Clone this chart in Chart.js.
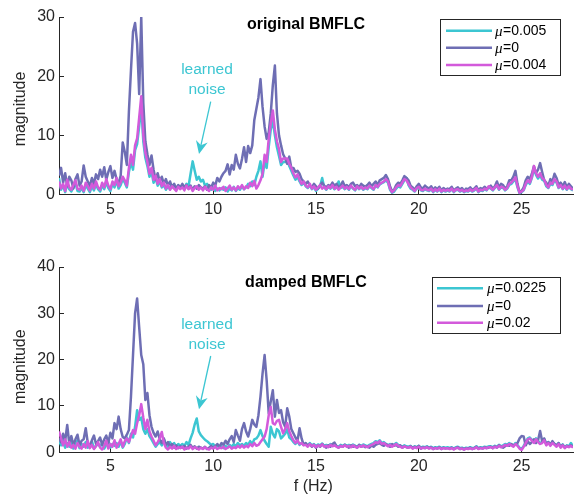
<!DOCTYPE html>
<html><head><meta charset="utf-8">
<script src="https://cdn.jsdelivr.net/npm/chart.js@4.4.1/dist/chart.umd.min.js"></script>
<style>
html,body{margin:0;padding:0;background:#fff;}
#wrap{position:relative;width:582px;height:500px;}
.box{position:absolute;left:0;width:582px;height:250px;}
</style></head><body>
<div id="wrap">
<div class="box" style="top:0"><canvas id="c1" width="582" height="250"></canvas></div>
<div class="box" style="top:250px"><canvas id="c2" width="582" height="250"></canvas></div>
</div>
<script>
// frequency grid (Hz)
const freq = [
2.5,2.6,2.7,2.8,2.9,3.0,3.1,3.2,3.3,3.4,
3.5,3.6,3.7,3.8,3.9,4.0,4.1,4.2,4.3,4.4,
4.5,4.6,4.7,4.8,4.9,5.0,5.1,5.2,5.3,5.4,
5.5,5.6,5.7,5.8,5.9,6.0,6.1,6.2,6.3,6.4,
6.5,6.6,6.7,6.8,6.9,7.0,7.1,7.2,7.3,7.4,
7.5,7.6,7.7,7.8,7.9,8.0,8.1,8.2,8.3,8.4,
8.5,8.6,8.7,8.8,8.9,9.0,9.1,9.2,9.3,9.4,
9.5,9.6,9.7,9.8,9.9,10.0,10.1,10.2,10.3,10.4,
10.5,10.6,10.7,10.8,10.9,11.0,11.1,11.2,11.3,11.4,
11.5,11.6,11.7,11.8,11.9,12.0,12.1,12.2,12.3,12.4,
12.5,12.6,12.7,12.8,12.9,13.0,13.1,13.2,13.3,13.4,
13.5,13.6,13.7,13.8,13.9,14.0,14.1,14.2,14.3,14.4,
14.5,14.6,14.7,14.8,14.9,15.0,15.1,15.2,15.3,15.4,
15.5,15.6,15.7,15.8,15.9,16.0,16.1,16.2,16.3,16.4,
16.5,16.6,16.7,16.8,16.9,17.0,17.1,17.2,17.3,17.4,
17.5,17.6,17.7,17.8,17.9,18.0,18.1,18.2,18.3,18.4,
18.5,18.6,18.7,18.8,18.9,19.0,19.1,19.2,19.3,19.4,
19.5,19.6,19.7,19.8,19.9,20.0,20.1,20.2,20.3,20.4,
20.5,20.6,20.7,20.8,20.9,21.0,21.1,21.2,21.3,21.4,
21.5,21.6,21.7,21.8,21.9,22.0,22.1,22.2,22.3,22.4,
22.5,22.6,22.7,22.8,22.9,23.0,23.1,23.2,23.3,23.4,
23.5,23.6,23.7,23.8,23.9,24.0,24.1,24.2,24.3,24.4,
24.5,24.6,24.7,24.8,24.9,25.0,25.1,25.2,25.3,25.4,
25.5,25.6,25.7,25.8,25.9,26.0,26.1,26.2,26.3,26.4,
26.5,26.6,26.7,26.8,26.9,27.0,27.1,27.2,27.3,27.4,
27.5];

// original BMFLC
const topMu0005 = [
2.8,0.8,1.5,0.4,1.8,0.9,0.5,1.2,1.9,0.6,
0.5,1.1,0.4,1.6,1.0,0.4,1.4,0.7,1.7,0.9,
0.5,1.6,0.9,2.1,1.1,0.6,1.8,1.2,2.4,1.0,
1.6,2.6,2.0,1.2,3.8,5.5,4.2,7.5,8.5,11.5,
15.0,9.0,6.2,4.8,3.0,3.8,2.0,2.8,1.5,2.2,
1.2,1.6,0.8,1.4,0.9,1.6,1.2,0.8,1.5,1.1,
1.4,1.0,1.8,1.4,3.5,5.6,4.0,2.5,3.0,2.2,
2.5,1.5,1.8,1.2,0.8,1.2,0.6,1.0,0.7,1.1,
0.8,1.2,0.5,1.0,0.7,1.3,0.6,1.1,0.8,1.4,
0.9,1.2,1.8,1.4,2.2,1.6,3.0,4.0,5.6,3.0,
5.5,4.5,8.0,11.0,12.5,10.0,8.0,6.5,5.0,5.5,
5.5,5.8,4.8,4.0,3.2,2.5,3.0,2.2,1.6,2.0,
1.4,1.1,1.6,0.9,1.2,0.6,1.0,1.4,2.8,1.2,
0.8,1.3,1.0,1.4,0.9,1.2,2.2,1.1,1.3,0.9,
1.2,0.8,1.4,1.0,0.7,1.3,0.9,1.2,0.8,1.1,
0.9,1.4,1.1,0.8,1.5,1.2,1.7,1.9,2.1,2.4,
2.0,0.8,0.3,0.5,1.0,1.4,1.2,1.8,2.4,2.8,
1.6,1.0,0.8,0.5,1.0,1.2,0.7,0.6,0.9,0.7,
0.6,0.9,0.4,0.8,0.5,0.9,0.4,0.7,0.5,0.7,
0.5,0.9,0.4,0.7,0.8,0.5,0.7,0.4,0.6,0.5,
0.8,0.5,0.7,1.0,0.4,0.7,0.6,0.9,0.7,1.2,
1.0,0.7,1.1,1.5,0.8,1.2,1.1,0.7,1.0,1.6,
1.8,2.2,2.6,1.2,0.2,0.4,0.7,1.6,2.2,1.8,
2.8,4.4,3.3,2.7,3.3,2.5,2.3,1.4,1.1,1.8,
1.6,2.4,2.0,1.1,1.5,0.9,1.4,0.8,1.3,0.9,
0.7];
const topMu0 = [
3.2,4.5,2.0,3.6,1.4,3.0,2.4,1.0,2.6,3.4,
1.5,2.2,4.9,3.0,2.2,1.4,2.8,1.8,3.4,2.6,
4.2,3.0,4.6,2.5,3.8,4.8,2.8,4.0,2.6,1.8,
3.2,8.8,7.2,5.0,14.0,21.0,27.5,29.0,25.5,17.0,
30.0,15.5,9.0,6.8,5.0,6.6,4.2,2.5,3.6,2.2,
3.0,1.8,2.6,1.5,2.2,1.2,1.8,1.0,1.6,1.2,
1.8,1.2,1.6,1.0,1.5,0.8,1.4,1.0,1.6,1.2,
1.0,1.4,0.8,1.6,1.2,2.0,1.5,2.8,2.2,3.0,
3.6,4.0,5.1,3.4,5.0,4.2,6.7,5.2,4.4,6.0,
8.0,5.5,8.2,7.0,8.3,12.6,14.5,16.4,19.5,14.8,
11.5,9.4,10.5,13.7,18.5,21.8,13.7,10.0,8.3,6.8,
6.1,5.2,6.4,4.5,4.5,3.8,4.0,3.5,2.6,2.2,
1.8,2.2,1.5,1.2,1.8,1.4,1.0,1.6,2.0,1.5,
1.2,1.6,1.4,2.0,1.5,1.8,1.2,1.5,2.2,1.4,
1.6,1.2,1.8,2.0,1.4,1.6,1.2,1.8,1.5,1.3,
1.6,2.0,1.4,1.8,2.2,1.6,2.4,2.6,2.8,3.3,
2.6,1.4,0.5,0.8,1.6,2.0,1.8,2.4,3.1,2.8,
2.4,1.5,1.2,0.8,1.4,1.8,1.2,1.0,1.5,1.2,
1.0,1.4,0.8,1.2,0.9,1.3,0.7,1.1,0.8,1.0,
0.9,1.3,0.7,1.0,1.2,0.8,1.1,0.6,1.0,0.9,
1.2,0.8,1.0,1.4,0.7,1.1,0.9,1.3,1.0,1.2,
1.5,1.0,1.4,2.2,1.2,1.8,1.6,1.0,1.4,2.4,
2.4,3.0,4.0,1.8,0.4,0.6,1.2,2.4,3.0,2.6,
3.5,4.8,3.6,4.2,5.3,3.8,2.4,2.0,1.5,2.6,
2.2,3.5,2.8,1.6,2.0,1.4,2.1,1.2,1.8,1.4,
1.0];
const topMu0004 = [
2.2,1.0,1.8,0.6,2.5,1.2,0.8,1.6,2.4,1.0,
0.8,1.5,0.6,2.0,1.4,0.7,1.8,1.0,2.2,1.2,
0.8,2.0,1.2,2.6,1.5,0.9,2.2,1.6,2.8,1.4,
2.0,3.0,2.4,1.5,4.5,6.7,5.0,8.3,9.5,13.0,
16.6,10.0,7.0,5.5,3.5,4.5,2.5,3.2,1.8,2.6,
1.4,2.0,1.0,1.6,0.8,1.4,1.0,0.6,1.3,0.9,
1.2,0.7,1.5,0.9,1.3,0.6,1.1,1.4,0.8,1.2,
0.7,1.3,0.9,0.6,1.2,0.8,1.5,0.7,1.1,0.9,
1.3,0.6,1.0,1.5,0.8,1.2,0.7,1.4,1.0,1.6,
0.9,1.4,1.1,2.0,1.4,2.3,1.0,1.6,2.4,3.5,
6.7,5.5,9.4,12.0,14.2,11.0,9.0,7.7,5.5,6.1,
6.1,6.1,5.2,4.5,3.6,2.9,3.4,2.5,1.8,2.2,
1.5,1.2,1.8,1.0,1.4,0.8,1.2,1.6,1.0,1.3,
0.9,1.4,1.1,1.6,1.0,1.3,0.8,1.2,1.5,1.0,
1.3,0.9,1.5,1.1,0.8,1.4,1.0,1.3,0.9,1.2,
1.0,1.5,1.2,0.9,1.6,1.3,1.8,2.0,2.2,2.6,
2.2,1.0,0.4,0.7,1.2,1.6,1.4,2.0,2.6,2.4,
1.8,1.2,0.9,0.6,1.1,1.3,0.8,0.7,1.0,0.8,
0.7,1.0,0.5,0.9,0.6,1.0,0.5,0.8,0.6,0.8,
0.6,1.0,0.5,0.8,0.9,0.6,0.8,0.5,0.7,0.6,
0.9,0.6,0.8,1.1,0.5,0.8,0.7,1.0,0.8,1.4,
1.1,0.8,1.2,1.6,0.9,1.3,1.2,0.8,1.1,1.8,
2.0,2.4,2.9,1.4,0.3,0.5,0.8,1.8,2.4,2.0,
3.0,4.8,3.6,3.0,3.6,2.8,2.5,1.6,1.2,2.0,
1.8,2.6,2.2,1.2,1.6,1.0,1.5,0.9,1.4,1.0,
0.8];

// damped BMFLC
const botMu00225 = [
2.5,1.5,2.8,1.0,2.0,1.2,2.4,0.8,1.6,2.6,
0.9,1.8,1.2,2.2,1.0,1.5,2.4,0.8,1.4,1.8,
1.2,2.0,0.8,1.6,2.4,1.0,1.8,1.4,2.0,1.2,
2.4,1.0,1.8,3.2,2.0,4.0,3.2,5.5,9.1,7.0,
7.5,5.0,4.0,5.0,3.5,2.8,2.0,1.2,1.8,2.2,
1.5,2.8,1.8,1.2,2.2,1.5,2.0,1.2,1.8,1.4,
1.8,1.4,2.2,1.6,3.0,4.2,6.0,7.3,4.5,3.7,
3.2,2.7,2.4,2.0,1.6,1.8,1.2,1.5,1.0,1.3,
0.9,1.4,1.0,1.6,1.2,1.8,1.3,2.0,1.5,1.8,
1.4,2.0,1.6,2.4,1.8,2.8,3.0,3.6,4.8,3.5,
2.5,1.8,1.2,5.5,4.0,3.2,5.0,4.5,3.0,3.5,
4.0,5.0,3.2,2.8,2.2,1.8,2.4,1.6,2.0,1.7,
1.8,1.4,2.0,1.5,1.8,1.3,1.7,1.5,1.9,1.4,
1.6,1.3,1.8,1.5,1.7,1.4,1.2,1.6,1.4,1.7,
1.4,1.6,1.3,1.7,1.4,1.2,1.6,1.4,1.7,1.5,
1.3,1.6,1.8,2.0,2.4,2.2,2.6,2.0,2.2,1.8,
1.5,1.8,1.4,1.7,2.0,1.6,1.4,1.2,1.5,1.3,
1.2,1.4,1.0,1.3,1.1,1.4,1.0,1.2,1.1,1.3,
1.0,1.2,0.9,1.1,1.0,1.2,0.9,1.1,1.0,1.1,
0.9,1.1,0.8,1.1,1.2,0.9,1.0,0.8,1.0,0.9,
1.1,0.9,1.0,1.3,0.9,1.1,1.0,1.2,1.1,1.3,
1.3,1.1,1.4,1.2,1.6,1.3,1.5,1.8,1.6,2.0,
1.7,1.4,2.0,1.6,1.0,0.7,1.4,2.2,3.0,3.2,
2.7,2.2,3.0,2.4,2.0,2.2,2.8,1.7,2.2,1.6,
2.2,1.8,1.4,2.0,1.2,1.7,1.1,1.5,1.3,2.0,
1.3];
const botMu0 = [
3.0,2.2,4.0,2.5,5.9,1.8,3.5,1.5,2.8,3.8,
1.5,2.5,2.8,5.2,2.0,1.2,2.6,3.6,1.8,2.4,
3.2,1.6,2.8,3.6,2.0,4.2,3.0,6.3,5.0,7.7,
5.0,3.3,3.0,3.8,4.8,12.0,21.0,30.0,33.2,27.0,
21.0,19.0,11.3,12.8,8.0,5.5,4.2,3.4,4.5,2.8,
2.0,3.0,1.5,2.2,1.2,1.8,1.0,1.5,0.9,1.3,
1.0,1.4,0.8,1.2,1.6,1.0,1.3,0.8,1.2,1.0,
0.8,1.2,0.7,1.0,1.4,0.9,1.3,1.8,1.2,2.0,
1.6,2.5,1.8,2.8,3.5,2.2,4.8,3.6,2.5,5.0,
6.3,4.5,3.4,5.0,7.0,6.0,5.5,8.0,12.0,17.0,
21.0,15.6,8.4,11.0,13.4,7.7,11.3,8.5,9.1,6.5,
5.5,9.5,7.7,5.0,4.1,3.2,2.5,5.2,3.0,1.6,
2.0,1.4,1.8,1.2,1.6,1.0,1.5,1.2,1.8,1.3,
1.0,1.5,1.2,1.8,2.1,1.3,1.0,1.4,1.2,1.6,
1.3,1.0,1.5,1.2,1.4,1.0,1.6,1.2,1.4,1.1,
1.3,1.0,1.5,1.2,1.6,1.8,2.0,1.6,1.4,1.8,
1.5,1.2,1.8,1.4,1.6,1.2,1.5,1.0,1.3,1.1,
1.0,1.3,0.9,1.2,1.0,1.4,0.8,1.1,0.9,1.2,
0.9,1.1,0.7,1.0,0.8,1.1,0.7,1.0,0.8,0.9,
0.8,1.0,0.7,0.9,1.1,0.7,0.9,0.6,0.9,0.8,
1.0,0.7,0.9,1.2,0.8,1.0,0.8,1.1,0.9,1.0,
1.2,0.9,1.3,1.0,1.5,1.2,1.0,1.3,1.6,1.4,
1.8,1.5,1.6,2.0,3.0,3.5,3.4,1.5,2.4,1.8,
2.2,2.8,2.0,2.6,4.6,2.4,3.0,1.8,2.2,1.6,
2.4,1.8,1.5,2.0,1.2,1.6,1.0,1.4,1.2,1.5,
1.2];
const botMu002 = [
4.5,3.0,1.5,2.8,1.2,2.2,1.0,1.6,0.8,2.0,
1.2,0.8,1.8,1.0,2.4,0.9,1.6,0.7,1.3,2.2,
1.0,0.6,1.4,2.5,0.8,1.8,1.2,2.6,1.0,1.8,
2.8,1.2,2.4,3.0,2.2,3.5,4.8,4.0,6.3,8.0,
10.4,7.5,5.0,7.0,4.5,3.4,2.5,1.5,2.2,3.0,
4.4,2.0,1.0,0.6,1.2,0.8,1.4,0.7,1.1,0.9,
1.2,0.6,1.0,0.8,1.3,0.7,1.1,0.9,0.6,1.0,
0.7,1.1,0.8,0.6,1.0,0.8,1.2,0.7,1.0,0.9,
1.2,0.7,1.0,1.3,0.8,1.1,0.9,1.4,1.0,1.5,
1.0,1.4,1.1,1.8,1.3,2.0,1.4,1.6,2.2,2.8,
3.4,5.0,8.0,9.8,6.3,6.0,6.8,7.0,5.5,4.1,
5.0,6.3,4.5,3.5,2.6,2.0,2.6,1.8,2.0,1.5,
1.6,1.2,1.8,1.3,1.6,1.1,1.5,1.3,1.7,1.2,
1.4,1.1,1.6,1.3,1.5,1.2,1.0,1.4,1.2,1.5,
1.2,1.4,1.1,1.5,1.2,1.0,1.4,1.2,1.5,1.3,
1.1,1.4,1.6,1.8,2.2,2.0,2.4,1.8,2.0,1.6,
1.3,1.6,1.2,1.5,1.8,1.4,1.2,1.0,1.3,1.1,
1.0,1.2,0.8,1.1,0.9,1.2,0.8,1.0,0.9,1.1,
0.8,1.0,0.7,0.9,0.8,1.0,0.7,0.9,0.8,0.9,
0.7,0.9,0.6,0.9,1.0,0.7,0.8,0.6,0.8,0.7,
0.9,0.7,0.8,1.1,0.7,0.9,0.8,1.0,0.9,1.1,
1.1,0.9,1.2,1.0,1.4,1.1,1.3,1.6,1.4,1.8,
1.5,1.2,1.8,1.4,0.8,0.5,1.2,2.0,2.8,3.0,
2.5,2.0,2.8,2.2,1.8,2.0,2.6,1.5,2.0,1.4,
2.0,1.6,1.2,1.8,1.0,1.5,0.9,1.3,1.1,1.4,
1.0];

const xTicks = [5, 10, 15, 20, 25];
const topYTicks = [0, 10, 20, 30];
const botYTicks = [0, 10, 20, 30, 40];
const topMuLabels = ['0.005', '0', '0.004'];
const botMuLabels = ['0.0225', '0', '0.02'];

const CYAN = '#3cc6d2', PURPLE = '#6e6eb4', MAGENTA = '#d35adb';
const AX = '#262626';
const SANS = '"Liberation Sans", Arial, sans-serif';

function drawArrow(c, x0, y0, x1, y1, color) {
  const dx = x1 - x0, dy = y1 - y0, L = Math.hypot(dx, dy);
  const ux = dx / L, uy = dy / L, px = -uy, py = ux;
  const hl = 13, hw = 6, back = 9;
  c.strokeStyle = color; c.fillStyle = color; c.lineWidth = 1.3;
  c.beginPath(); c.moveTo(x0, y0); c.lineTo(x1 - ux * back, y1 - uy * back); c.stroke();
  c.beginPath();
  c.moveTo(x1, y1);
  c.lineTo(x1 - ux * hl + px * hw, y1 - uy * hl + py * hw);
  c.lineTo(x1 - ux * back, y1 - uy * back);
  c.lineTo(x1 - ux * hl - px * hw, y1 - uy * hl - py * hw);
  c.closePath(); c.fill();
}

const annotPlugin = {
  id: 'annot',
  afterDraw(chart, args, o) {
    const c = chart.ctx;
    c.save();
    c.textAlign = 'center'; c.textBaseline = 'middle';
    // title
    c.fillStyle = '#000'; c.font = 'bold 16px ' + SANS;
    c.fillText(o.title, o.titleX, o.titleY);
    // learned noise
    c.fillStyle = CYAN; c.font = '15.5px ' + SANS;
    c.fillText('learned', o.noteX, o.noteY1);
    c.fillText('noise', o.noteX, o.noteY2);
    drawArrow(c, o.arrow[0], o.arrow[1], o.arrow[2], o.arrow[3], CYAN);
    // y label
    c.save(); c.translate(o.ylabX, o.ylabY); c.rotate(-Math.PI / 2);
    c.fillStyle = AX; c.font = '16px ' + SANS; c.fillText('magnitude', 0, 0); c.restore();
    // x label
    if (o.xlabel) { c.fillStyle = AX; c.font = '16px ' + SANS; c.fillText(o.xlabel, o.xlabX, o.xlabY); }
    // legend
    const L = o.legend;
    c.fillStyle = '#fff'; c.fillRect(L.x0, L.y0, L.x1 - L.x0, L.y1 - L.y0);
    c.strokeStyle = AX; c.lineWidth = 1;
    c.strokeRect(Math.round(L.x0) + 0.5, Math.round(L.y0) + 0.5, Math.round(L.x1 - L.x0), Math.round(L.y1 - L.y0));
    const ds = chart.data.datasets;
    c.textAlign = 'left';
    ds.forEach((d, i) => {
      const y = L.rows[i];
      c.strokeStyle = d.borderColor; c.lineWidth = 2.5;
      c.beginPath(); c.moveTo(L.lx0, y); c.lineTo(L.lx1, y); c.stroke();
      c.fillStyle = '#000';
      c.font = 'italic 15px "Liberation Serif", serif';
      c.fillText('\u03bc', L.tx, y + 1);
      const w = c.measureText('\u03bc').width;
      c.font = '14px ' + SANS;
      c.fillText('=' + o.mus[i], L.tx + w + 0.5, y);
    });
    c.restore();
  }
};

function makeChart(id, vals, yTicks, yMax, o) {
  const colors = [CYAN, PURPLE, MAGENTA];
  return new Chart(document.getElementById(id), {
    type: 'line',
    data: {
      datasets: vals.map((v, i) => ({
        label: '\u03bc=' + o.mus[i],
        data: freq.map((f, k) => ({ x: f, y: v[k] })),
        borderColor: colors[i], borderWidth: 2.5, pointRadius: 0,
        tension: 0, fill: false, order: 2 - i, borderJoinStyle: 'round'
      }))
    },
    options: {
      responsive: false, animation: false, devicePixelRatio: 1,
      layout: { padding: { left: 0, right: 9, top: o.top, bottom: 0 } },
      plugins: { legend: { display: false }, tooltip: { enabled: false }, annot: o },
      scales: {
        x: {
          type: 'linear', min: 2.5, max: 27.5,
          afterBuildTicks: s => { s.ticks = xTicks.map(v => ({ value: v })); },
          afterFit: s => { s.height = o.xh; },
          grid: { drawOnChartArea: false, tickLength: -5, color: AX, lineWidth: 1 },
          border: { color: AX, width: 1 },
          ticks: { font: { family: SANS, size: 16 }, color: AX, padding: 10, maxRotation: 0, autoSkip: false, includeBounds: false }
        },
        y: {
          min: 0, max: yMax,
          afterBuildTicks: s => { s.ticks = yTicks.map(v => ({ value: v })); },
          afterFit: s => { s.width = 59; },
          grid: { drawOnChartArea: false, tickLength: -5, color: AX, lineWidth: 1 },
          border: { color: AX, width: 1 },
          ticks: { font: { family: SANS, size: 16, lineHeight: 1 }, color: AX, padding: 9 }
        }
      }
    },
    plugins: [annotPlugin]
  });
}

makeChart('c1', [topMu0005, topMu0, topMu0004], topYTicks, 30, {
  mus: topMuLabels, top: 9, xh: 55.5,
  title: 'original BMFLC', titleX: 306, titleY: 25,
  noteX: 207, noteY1: 70, noteY2: 90, arrow: [210.7, 101.7, 199, 154],
  ylabX: 21, ylabY: 109,
  legend: { x0: 440, y0: 19, x1: 560, y1: 75, lx0: 446, lx1: 492, tx: 495, rows: [30.7, 47.7, 65] }
});
makeChart('c2', [botMu00225, botMu0, botMu002], botYTicks, 40, {
  mus: botMuLabels, top: 16.7, xh: 47.7,
  title: 'damped BMFLC', titleX: 306, titleY: 33,
  noteX: 207, noteY1: 75, noteY2: 95, arrow: [210.7, 106, 199, 159.3],
  ylabX: 21, ylabY: 116.7,
  xlabel: 'f (Hz)', xlabX: 313.3, xlabY: 237,
  legend: { x0: 431.7, y0: 27.3, x1: 560, y1: 83.3, lx0: 437, lx1: 483, tx: 487, rows: [38.3, 56, 72.7] }
});
</script>
</body></html>
